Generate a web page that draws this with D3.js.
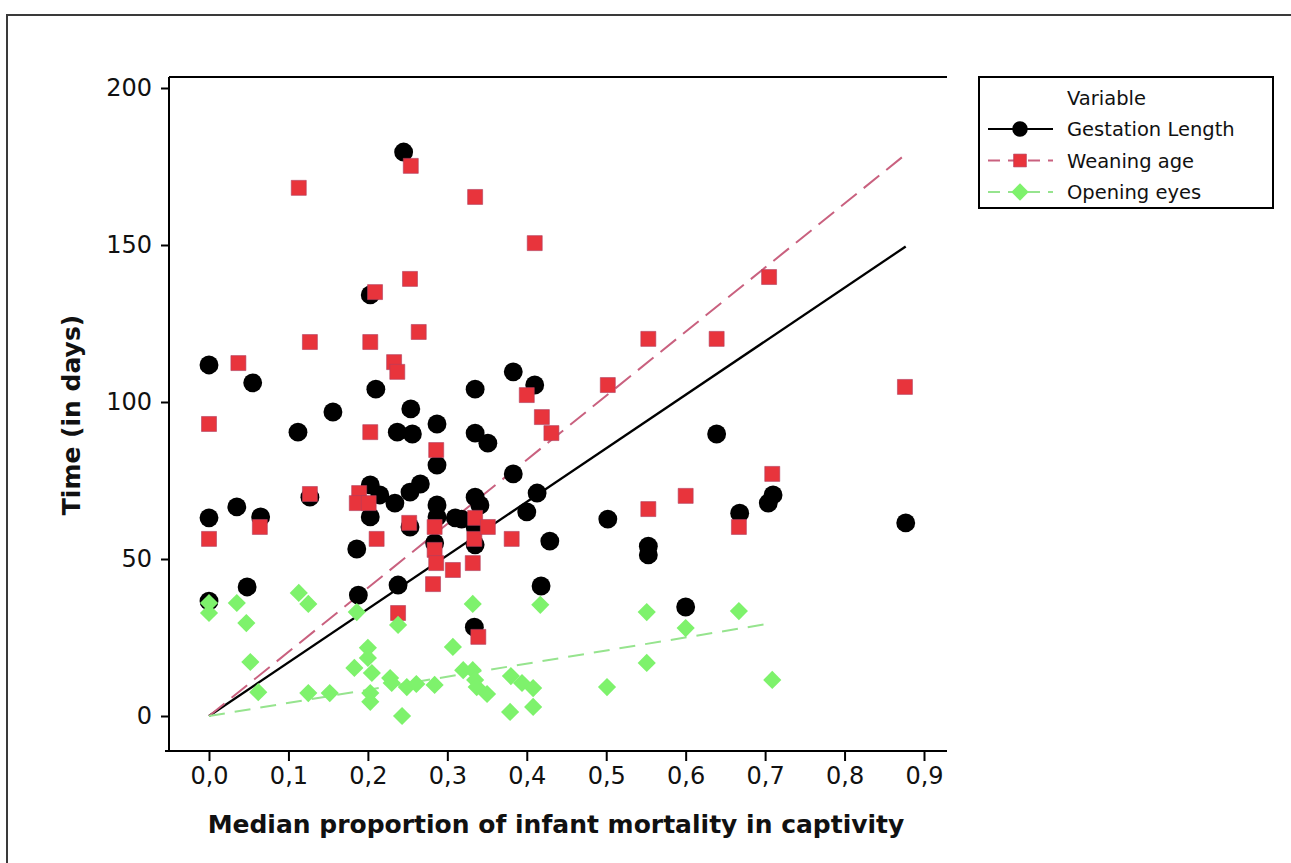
<!DOCTYPE html>
<html>
<head>
<meta charset="utf-8">
<script src="https://cdn.jsdelivr.net/npm/d3@7"></script>
<style>
  html, body { margin: 0; padding: 0; background: #ffffff; }
  svg { display: block; }
  text { font-family: "DejaVu Sans", Verdana, sans-serif; fill: #111; }
</style>
</head>
<body>
<svg id="chart" width="1291" height="863"></svg>
<script>
// Gestation length (days) against median infant mortality proportion
const gestX = [0.000, 0.000, 0.000, 0.035, 0.048, 0.055, 0.065, 0.112, 0.127, 0.156,
  0.186, 0.188, 0.203, 0.245, 0.210, 0.203, 0.215, 0.234, 0.253, 0.266,
  0.203, 0.253, 0.238, 0.237, 0.256, 0.254, 0.287, 0.287, 0.287, 0.287,
  0.284, 0.310, 0.318, 0.335, 0.335, 0.335, 0.341, 0.335, 0.335, 0.334,
  0.351, 0.383, 0.383, 0.413, 0.400, 0.429, 0.410, 0.418, 0.502, 0.553,
  0.553, 0.600, 0.639, 0.668, 0.704, 0.710, 0.877];
const gestY = [111.8, 63.1, 36.6, 66.6, 41.1, 106.1, 63.4, 90.4, 69.7, 96.8,
  53.2, 38.5, 134.1, 179.6, 104.1, 73.6, 70.4, 67.8, 71.3, 73.9,
  63.4, 60.2, 41.7, 90.4, 89.8, 97.8, 93.0, 79.9, 67.2, 63.4,
  55.1, 63.1, 62.7, 104.1, 90.1, 69.7, 67.2, 60.2, 54.5, 28.3,
  86.9, 109.6, 77.1, 71.0, 65.0, 55.7, 105.4, 41.4, 62.7, 54.1,
  51.3, 34.7, 89.8, 64.6, 67.8, 70.4, 61.5];

// Weaning age (days)
const weanX = [0.000, 0.000, 0.037, 0.064, 0.113, 0.127, 0.127, 0.189, 0.186, 0.201,
  0.203, 0.203, 0.209, 0.211, 0.233, 0.237, 0.238, 0.252, 0.253, 0.254,
  0.264, 0.286, 0.284, 0.284, 0.286, 0.282, 0.307, 0.332, 0.335, 0.334,
  0.335, 0.339, 0.351, 0.381, 0.400, 0.410, 0.419, 0.431, 0.502, 0.553,
  0.553, 0.600, 0.639, 0.667, 0.705, 0.709, 0.876];
const weanY = [93.0, 56.4, 112.4, 60.2, 168.2, 119.1, 70.7, 71.0, 67.8, 67.8,
  119.1, 90.4, 135.0, 56.4, 112.7, 109.6, 32.8, 61.5, 139.2, 175.2,
  122.3, 84.7, 60.2, 52.9, 48.7, 42.0, 46.5, 48.7, 63.1, 56.4,
  165.3, 25.2, 60.2, 56.4, 102.2, 150.6, 95.2, 90.1, 105.4, 120.1,
  65.9, 70.1, 120.1, 60.2, 139.8, 77.1, 104.8];

// Age at eye opening (days)
const eyesX = [0.000, 0.000, 0.035, 0.047, 0.052, 0.062, 0.113, 0.125, 0.125, 0.152,
  0.186, 0.238, 0.200, 0.200, 0.183, 0.205, 0.228, 0.230, 0.249, 0.261,
  0.284, 0.203, 0.203, 0.243, 0.307, 0.320, 0.332, 0.335, 0.337, 0.350,
  0.332, 0.380, 0.394, 0.408, 0.379, 0.408, 0.417, 0.551, 0.551, 0.501,
  0.600, 0.667, 0.709];
const eyesY = [36.0, 32.8, 36.0, 29.6, 17.2, 7.6, 39.2, 35.7, 7.3, 7.3,
  33.1, 29.0, 21.7, 18.5, 15.3, 13.7, 12.1, 10.5, 9.2, 10.2,
  9.9, 7.3, 4.5, 0.0, 22.0, 14.6, 14.6, 11.5, 9.2, 7.0,
  35.7, 12.7, 10.5, 8.9, 1.3, 2.9, 35.4, 33.1, 16.9, 9.2,
  28.0, 33.4, 11.5];

// Fitted lines through the origin (slope in days per unit proportion)
const seriesNames = ["Gestation Length", "Weaning age", "Opening eyes"];
const fitSlopes = [170.5, 204.0, 41.7];

const xTicks = [0, 0.1, 0.2, 0.3, 0.4, 0.5, 0.6, 0.7, 0.8, 0.9];
const yTicks = [0, 50, 100, 150, 200];

const svg = d3.select("#chart");

// Outer panel frame
svg.append("rect")
  .attr("x", 7).attr("y", 15).attr("width", 1300).attr("height", 900)
  .attr("fill", "#ffffff").attr("stroke", "#3a3a3a").attr("stroke-width", 2);

const x = d3.scaleLinear().domain([0, 0.9]).range([209, 924]);
const y = d3.scaleLinear().domain([0, 200]).range([716, 88]);

const plotLeft = 169, plotRight = 947, plotTop = 77, plotBottom = 751;

// Axes
const fmtX = d => d3.format(".1f")(d).replace(".", ",");
const gx = svg.append("g")
  .attr("transform", `translate(0,${plotBottom})`)
  .call(d3.axisBottom(x).tickValues(xTicks).tickFormat(fmtX).tickSize(10).tickPadding(6));
gx.select(".domain").remove();
gx.selectAll(".tick line").attr("stroke", "#000").attr("stroke-width", 2);
gx.selectAll(".tick text").style("font-size", "24px").attr("fill", "#111");

const gy = svg.append("g")
  .attr("transform", `translate(${plotLeft},0)`)
  .call(d3.axisLeft(y).tickValues(yTicks).tickSize(8).tickPadding(9));
gy.select(".domain").remove();
gy.selectAll(".tick line").attr("stroke", "#000").attr("stroke-width", 2);
gy.selectAll(".tick text").style("font-size", "24px").attr("fill", "#111");

// Plot frame: left axis, bottom axis and top edge
const frame = svg.append("g").attr("stroke", "#000").attr("stroke-width", 2);
frame.append("line").attr("x1", plotLeft).attr("x2", plotLeft).attr("y1", plotTop).attr("y2", plotBottom);
frame.append("line").attr("x1", plotLeft - 4).attr("x2", plotRight).attr("y1", plotBottom).attr("y2", plotBottom);
frame.append("line").attr("x1", plotLeft).attr("x2", plotRight).attr("y1", plotTop).attr("y2", plotTop);

// Axis titles
svg.append("text")
  .attr("x", 556).attr("y", 833)
  .attr("text-anchor", "middle")
  .style("font-size", "25px").style("font-weight", "bold")
  .text("Median proportion of infant mortality in captivity");
svg.append("text")
  .attr("transform", "translate(80,415) rotate(-90)")
  .attr("text-anchor", "middle")
  .style("font-size", "25px").style("font-weight", "bold")
  .text("Time (in days)");

const series = [
  { xs: gestX, ys: gestY, symbol: d3.symbolCircle, size: 280, rotate: 0,
    fill: "#000000", stroke: "none", line: "#000000", dash: null, lineWidth: 2.3 },
  { xs: weanX, ys: weanY, symbol: d3.symbolSquare, size: 225, rotate: 0,
    fill: "#e8343c", stroke: "#b04060", line: "#c9617f", dash: "20,9", lineWidth: 2 },
  { xs: eyesX, ys: eyesY, symbol: d3.symbolSquare, size: 165, rotate: 45,
    fill: "#7ef26c", stroke: "none", line: "#96e48e", dash: "16,10", lineWidth: 2 }
];

// Fitted lines
series.forEach((s, i) => {
  const xmax = d3.max(s.xs);
  const pts = [[0, 0], [xmax, fitSlopes[i] * xmax]];
  svg.append("path")
    .attr("d", d3.line().x(d => x(d[0])).y(d => y(d[1]))(pts))
    .attr("fill", "none")
    .attr("stroke", s.line)
    .attr("stroke-width", s.lineWidth)
    .attr("stroke-dasharray", s.dash);
});

// Markers
series.forEach(s => {
  const pts = s.xs.map((v, j) => [v, s.ys[j]]);
  svg.append("g").selectAll("path")
    .data(pts)
    .join("path")
    .attr("d", d3.symbol().type(s.symbol).size(s.size))
    .attr("transform", d => `translate(${x(d[0])},${y(d[1])}) rotate(${s.rotate})`)
    .attr("fill", s.fill)
    .attr("stroke", s.stroke)
    .attr("stroke-width", 0.6);
});

// Legend
const lg = svg.append("g");
lg.append("rect")
  .attr("x", 979).attr("y", 77).attr("width", 294).attr("height", 131)
  .attr("fill", "#ffffff").attr("stroke", "#000").attr("stroke-width", 2);
lg.append("text").attr("x", 1067).attr("y", 105)
  .style("font-size", "19.5px").text("Variable");
const legendSizes = [190, 165, 150];
series.forEach((s, i) => {
  const cy = 129 + i * 31.5;
  lg.append("line")
    .attr("x1", 988).attr("x2", 1053).attr("y1", cy).attr("y2", cy)
    .attr("stroke", s.line).attr("stroke-width", 2)
    .attr("stroke-dasharray", s.dash ? "12,8" : null);
  lg.append("path")
    .attr("d", d3.symbol().type(s.symbol).size(legendSizes[i]))
    .attr("transform", `translate(1020,${cy}) rotate(${s.rotate})`)
    .attr("fill", s.fill).attr("stroke", s.stroke).attr("stroke-width", 0.6);
  lg.append("text").attr("x", 1067).attr("y", cy + 7)
    .style("font-size", "19.5px").text(seriesNames[i]);
});
</script>
</body>
</html>
